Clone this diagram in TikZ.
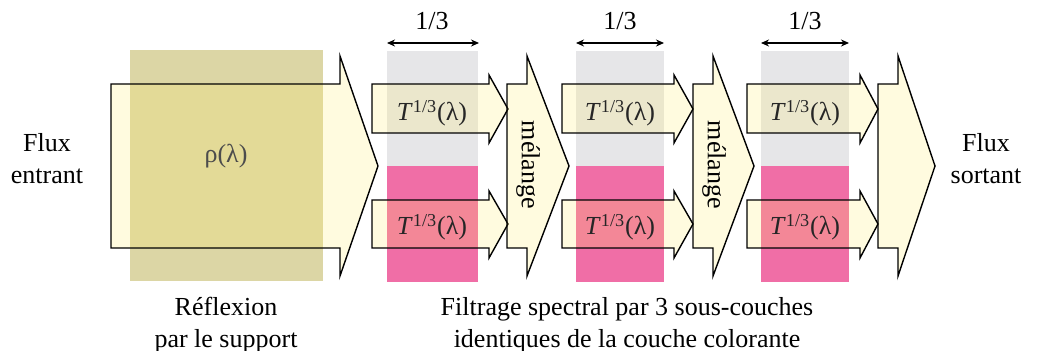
\documentclass[tikz,border=0pt]{standalone}
\usepackage{fontspec}
\setmainfont{Liberation Serif}
\usetikzlibrary{arrows.meta}
\definecolor{fluxfill}{RGB}{255,235,95}
\definecolor{supportfill}{RGB}{220,214,165}
\definecolor{grisfill}{RGB}{230,230,232}
\definecolor{rosefill}{RGB}{240,110,166}
\tikzset{
  flux/.style={draw=black, line width=0.7pt, fill=fluxfill, fill opacity=0.2, draw opacity=1},
  texte/.style={font=\fontsize{13}{16}\selectfont, align=center, inner sep=0pt},
  cote/.style={{Stealth[length=4pt,width=3.5pt]}-{Stealth[length=4pt,width=3.5pt]}, line width=0.8pt}
}
\newcommand{\transm}{\textit{T}\textsuperscript{1/3}(λ)}
\begin{document}
\begin{tikzpicture}[x=0.5pt,y=-0.5pt]
  \useasboundingbox (0,0) rectangle (1042,351);
  % support et sous-couches
  \fill[supportfill] (130,50) rectangle (323,281);
  \fill[grisfill] (387,51) rectangle (478,166);
  \fill[rosefill] (387,166) rectangle (478,282);
  \fill[grisfill] (576,51) rectangle (664,166);
  \fill[rosefill] (576,166) rectangle (664,282);
  \fill[grisfill] (761,51) rectangle (849,166);
  \fill[rosefill] (761,166) rectangle (849,282);
  % fleches
  \draw[flux] (111,84) -- (340,84) -- (340,56) -- (378,166) -- (340,276) -- (340,248) -- (111,248) -- cycle;
  \draw[flux] (372,84) -- (489,84) -- (489,75) -- (508,109) -- (489,143) -- (489,133) -- (372,133) -- cycle;
  \draw[flux] (372,200) -- (489,200) -- (489,191) -- (508,224) -- (489,258) -- (489,248) -- (372,248) -- cycle;
  \draw[flux] (507,84) -- (527,84) -- (527,56) -- (569,166) -- (527,276) -- (527,248) -- (507,248) -- cycle;
  \draw[flux] (562,84) -- (674,84) -- (674,75) -- (693,109) -- (674,143) -- (674,133) -- (562,133) -- cycle;
  \draw[flux] (562,200) -- (674,200) -- (674,191) -- (693,224) -- (674,258) -- (674,248) -- (562,248) -- cycle;
  \draw[flux] (693,84) -- (713,84) -- (713,56) -- (754,166) -- (713,276) -- (713,248) -- (693,248) -- cycle;
  \draw[flux] (747,84) -- (860,84) -- (860,75) -- (878,109) -- (860,143) -- (860,133) -- (747,133) -- cycle;
  \draw[flux] (747,200) -- (860,200) -- (860,191) -- (878,224) -- (860,258) -- (860,248) -- (747,248) -- cycle;
  \draw[flux] (878,84) -- (898,84) -- (898,56) -- (935,166) -- (898,276) -- (898,248) -- (878,248) -- cycle;
  % cotes 1/3
  \coordinate (c1g) at (387,43);
  \coordinate (c1d) at (479,43);
  \coordinate (c2g) at (576,43);
  \coordinate (c2d) at (664,43);
  \coordinate (c3g) at (761,43);
  \coordinate (c3d) at (849,43);
  \draw[cote] (c1g) -- (c1d);
  \draw[cote] (c2g) -- (c2d);
  \draw[cote] (c3g) -- (c3d);
  \node[texte, anchor=base] (tiers1) at (432,30) {1/3};
  \node[texte, anchor=base] (tiers2) at (620,30) {1/3};
  \node[texte, anchor=base] (tiers3) at (805,30) {1/3};
  % textes
  \node[texte] (entrant) at (47,159) {Flux\\entrant};
  \node[texte] (sortant) at (986,159) {Flux\\sortant};
  \node[texte, anchor=base, text=black!70] (rho) at (226,163) {ρ(λ)};
  \node[texte, anchor=base, text=black!85] (t1h) at (432,121) {\transm};
  \node[texte, anchor=base, text=black!85] (t1b) at (432,235) {\transm};
  \node[texte, anchor=base, text=black!85] (t2h) at (620,121) {\transm};
  \node[texte, anchor=base, text=black!85] (t2b) at (620,235) {\transm};
  \node[texte, anchor=base, text=black!85] (t3h) at (805,121) {\transm};
  \node[texte, anchor=base, text=black!85] (t3b) at (805,235) {\transm};
  \node[texte, rotate=-90] (melange1) at (528,165) {mélange};
  \node[texte, rotate=-90] (melange2) at (714,165) {mélange};
  \node[texte] (reflexion) at (226,325) {Réflexion\\par le support};
  \node[texte] (filtrage) at (627,325) {Filtrage spectral par 3 sous-couches\\identiques de la couche colorante};
\end{tikzpicture}
\end{document}
